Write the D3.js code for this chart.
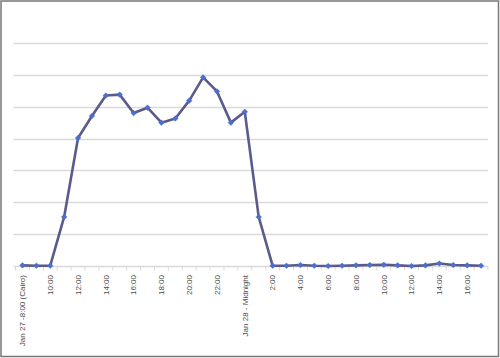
<!DOCTYPE html>
<html>
<head>
<meta charset="utf-8">
<script src="https://cdn.jsdelivr.net/npm/d3@7"></script>
<style>
  html, body { margin: 0; padding: 0; background: #fff; }
  svg { display: block; }
</style>
</head>
<body>
<svg id="chart" width="500" height="358"></svg>
<script>
// Hourly categories, Jan 27 08:00 (Cairo) through Jan 28 17:00
const categories = [
  "Jan 27 -8:00 (Cairo)", "9:00", "10:00", "11:00", "12:00", "13:00", "14:00", "15:00",
  "16:00", "17:00", "18:00", "19:00", "20:00", "21:00", "22:00", "23:00",
  "Jan 28 - Midnight", "1:00", "2:00", "3:00", "4:00", "5:00", "6:00", "7:00",
  "8:00", "9:00 ", "10:00 ", "11:00 ", "12:00 ", "13:00 ", "14:00 ", "15:00 ",
  "16:00 ", "17:00 "
];
const values = [
  0.2, 0.1, 0.1, 15.4, 40.2, 47.1, 53.5, 53.8,
  48.0, 49.7, 45.0, 46.3, 51.9, 59.2, 54.8, 45.0,
  48.4, 15.4, 0.1, 0.1, 0.3, 0.1, 0.0, 0.1,
  0.2, 0.3, 0.4, 0.2, 0.0, 0.2, 0.8, 0.3,
  0.2, 0.1
];
const tickLabels = [
  "Jan 27 -8:00 (Cairo)", "10:00", "12:00", "14:00", "16:00", "18:00", "20:00", "22:00",
  "Jan 28 - Midnight", "2:00", "4:00", "6:00", "8:00", "10:00", "12:00", "14:00", "16:00"
];
const gridValues = [0, 10, 20, 30, 40, 50, 60, 70];

const W = 500, H = 358;
const svg = d3.select("#chart");

// outer border
svg.append("rect")
  .attr("x", 1).attr("y", 1).attr("width", W - 2.5).attr("height", H - 2.5)
  .attr("fill", "#fff").attr("stroke", "#777").attr("stroke-width", 1.5);

const plot = { left: 15.5, right: 488, top: 43, bottom: 266 };

const x = d3.scaleBand()
  .domain(d3.range(categories.length))
  .range([plot.left, plot.right])
  .paddingInner(0).paddingOuter(0);

const y = d3.scaleLinear().domain([0, 70]).range([plot.bottom, plot.top]);

// gridlines
svg.append("g")
  .selectAll("line")
  .data(gridValues.filter(v => v > 0))
  .join("line")
  .attr("x1", 13.5).attr("x2", plot.right)
  .attr("y1", d => Math.round(y(d)) + 0.5).attr("y2", d => Math.round(y(d)) + 0.5)
  .attr("stroke", "#d9d9d9").attr("stroke-width", 1.3);

// category axis
const axisY = Math.round(y(0)) + 0.5;
svg.append("line")
  .attr("x1", 13.5).attr("x2", plot.right)
  .attr("y1", axisY).attr("y2", axisY)
  .attr("stroke", "#d9d9d9").attr("stroke-width", 1.3);

// tick marks at category boundaries
const boundaries = d3.range(categories.length + 1).map(i => plot.left + i * x.bandwidth());
svg.append("g")
  .selectAll("line")
  .data(boundaries)
  .join("line")
  .attr("x1", d => d).attr("x2", d => d)
  .attr("y1", axisY).attr("y2", axisY + 4)
  .attr("stroke", "#d9d9d9").attr("stroke-width", 1);

// tick labels (every 2nd category)
const labelIdx = d3.range(0, categories.length, 2);
svg.append("g")
  .selectAll("text")
  .data(labelIdx)
  .join("text")
  .attr("transform", (d, i) => `translate(${x(d) + x.bandwidth() / 2},275) rotate(-90)`)
  .attr("text-anchor", "end")
  .attr("dy", "0.35em")
  .attr("font-family", "'Liberation Sans', Arial, sans-serif")
  .attr("font-size", "8px")
  .attr("fill", "#4a4a4a")
  .text((d, i) => tickLabels[i]);

// line
const cx = i => x(i) + x.bandwidth() / 2;
const line = d3.line().x((d, i) => cx(i)).y(d => y(d));
svg.append("path")
  .datum(values)
  .attr("d", line)
  .attr("fill", "none")
  .attr("stroke", "#5a5a8c")
  .attr("stroke-width", 2.6)
  .attr("stroke-linejoin", "round");

// diamond markers
svg.append("g")
  .selectAll("path")
  .data(values)
  .join("path")
  .attr("transform", (d, i) => `translate(${cx(i)},${y(d)})`)
  .attr("d", "M0,-2.8L2.8,0L0,2.8L-2.8,0Z")
  .attr("fill", "#4a6fd0")
  .attr("stroke", "#4a6fd0")
  .attr("stroke-width", 0.5);
</script>
</body>
</html>
